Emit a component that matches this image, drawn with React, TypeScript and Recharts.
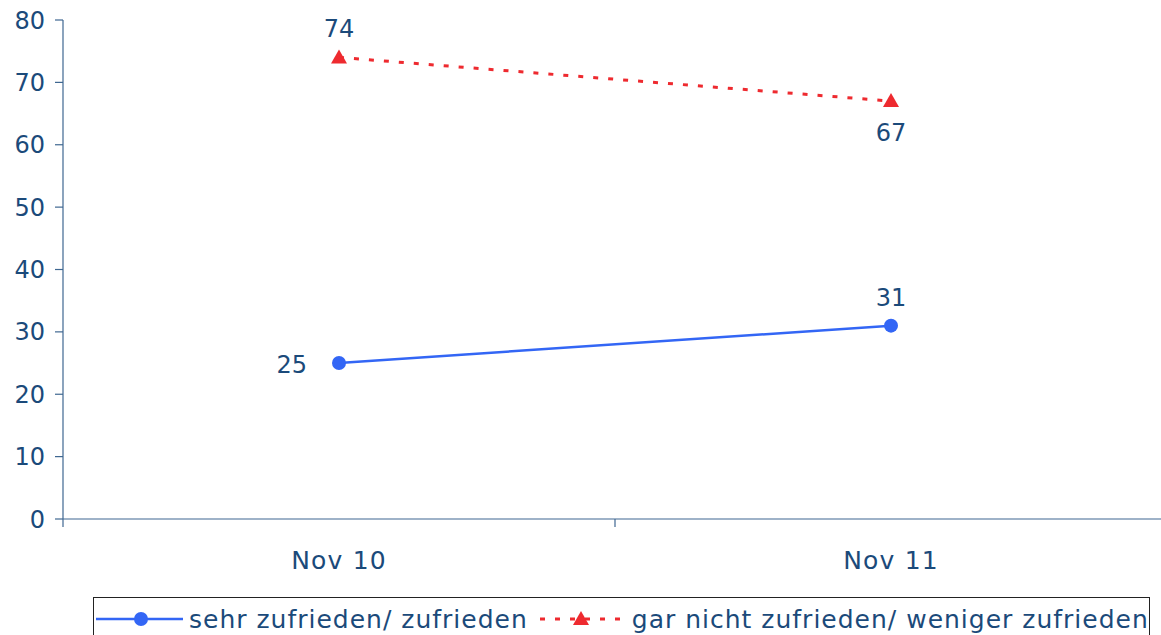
import { LineChart, Line, XAxis, YAxis, Legend } from 'recharts';

const categories = ['Nov 10', 'Nov 11'];
const sehrZufrieden = [25, 31];
const garNichtZufrieden = [74, 67];
const yTicks = [0, 10, 20, 30, 40, 50, 60, 70, 80];

// where each value label sits relative to its point
const blueLabelPos = ['left', 'top'];
const redLabelPos = ['top', 'bottom'];

const data = categories.map((name, i) => ({
  pos: i + 0.5,
  name,
  sehr: sehrZufrieden[i],
  gar: garNichtZufrieden[i],
}));

const xTicks: number[] = [];
for (let i = 0; i <= categories.length; i++) {
  xTicks.push(i);
  if (i < categories.length) xTicks.push(i + 0.5);
}

const TEXT = '#1b4a7a';
const AXIS = '#3f6791';
const BLUE = '#3366f5';
const RED = '#ee2a2f';
const FONT = '"DejaVu Sans", Verdana, sans-serif';

const XTick = (props: any) => {
  const { x, y, payload } = props;
  const v = payload.value;
  if (Number.isInteger(v)) {
    return <line x1={x} x2={x} y1={y} y2={y + 8} stroke={AXIS} strokeWidth={1.2} />;
  }
  return (
    <text x={x} y={y + 50} textAnchor="middle" fill={TEXT} fontSize={25} letterSpacing={1.2} fontFamily={FONT}>
      {categories[Math.floor(v)]}
    </text>
  );
};

const makeLabel = (positions: string[]) => (props: any) => {
  const { x, y, value, index } = props;
  const p = positions[index];
  let tx = x;
  let ty = y;
  let anchor = 'middle';
  if (p === 'top') ty = y - 20;
  if (p === 'bottom') ty = y + 40;
  if (p === 'left') {
    tx = x - 32;
    ty = y + 10;
    anchor = 'end';
  }
  return (
    <text key={index} x={tx} y={ty} textAnchor={anchor} fill={TEXT} fontSize={24} fontFamily={FONT}>
      {value}
    </text>
  );
};

const Triangle = (props: any) => {
  const { cx, cy } = props;
  if (cx == null || cy == null) return null;
  return <polygon points={`${cx},${cy - 8} ${cx + 8},${cy + 6} ${cx - 8},${cy + 6}`} fill={RED} />;
};

const renderLegend = () => (
  <div
    style={{
      display: 'flex',
      alignItems: 'center',
      border: '1.5px solid #222',
      height: 44,
      width: 1057,
      padding: '0 0 0 2px',
      fontFamily: FONT,
      fontSize: 25,
      letterSpacing: 1.0,
      color: TEXT,
      whiteSpace: 'nowrap',
      boxSizing: 'border-box',
    }}
  >
    <svg width={87} height={20} style={{ marginRight: 6, flex: 'none' }}>
      <line x1={0} x2={87} y1={10} y2={10} stroke={BLUE} strokeWidth={2.5} />
      <circle cx={45} cy={10} r={7} fill={BLUE} />
    </svg>
    <span style={{ marginRight: 12 }}>sehr zufrieden/ zufrieden</span>
    <svg width={86} height={20} style={{ marginRight: 6, flex: 'none' }}>
      <line x1={0} x2={86} y1={10} y2={10} stroke={RED} strokeWidth={3} strokeDasharray="5 10" />
      <polygon points="41,2 49,16 33,16" fill={RED} />
    </svg>
    <span>gar nicht zufrieden/ weniger zufrieden</span>
  </div>
);

export default function App() {
  return (
    <div style={{ position: 'absolute', left: 0, top: 0, width: 1161, height: 635, overflow: 'hidden', background: '#fff' }}>
      <LineChart width={1167} height={635} data={data} margin={{ top: 20, right: 0, bottom: 0, left: 0 }}>
        <XAxis
          dataKey="pos"
          type="number"
          domain={[0, categories.length]}
          ticks={xTicks}
          interval={0}
          height={116}
          stroke={AXIS}
          strokeWidth={1.2}
          tickLine={false}
          tickSize={0}
          tickMargin={0}
          tick={<XTick />}
        />
        <YAxis
          domain={[0, 80]}
          ticks={yTicks}
          interval={0}
          width={63}
          stroke={AXIS}
          strokeWidth={1.2}
          tickSize={8}
          tickMargin={10}
          tick={{ fill: TEXT, fontSize: 24, fontFamily: FONT }}
        />
        <Legend verticalAlign="middle" content={renderLegend} wrapperStyle={{ left: 93, top: 597, width: 'auto' }} />
        <Line
          dataKey="sehr"
          name="sehr zufrieden/ zufrieden"
          stroke={BLUE}
          strokeWidth={2.5}
          dot={{ r: 7, fill: BLUE, stroke: BLUE, strokeWidth: 0 }}
          label={makeLabel(blueLabelPos)}
          isAnimationActive={false}
        />
        <Line
          dataKey="gar"
          name="gar nicht zufrieden/ weniger zufrieden"
          stroke={RED}
          strokeWidth={3}
          strokeDasharray="5 10"
          dot={<Triangle />}
          label={makeLabel(redLabelPos)}
          isAnimationActive={false}
        />
      </LineChart>
    </div>
  );
}
